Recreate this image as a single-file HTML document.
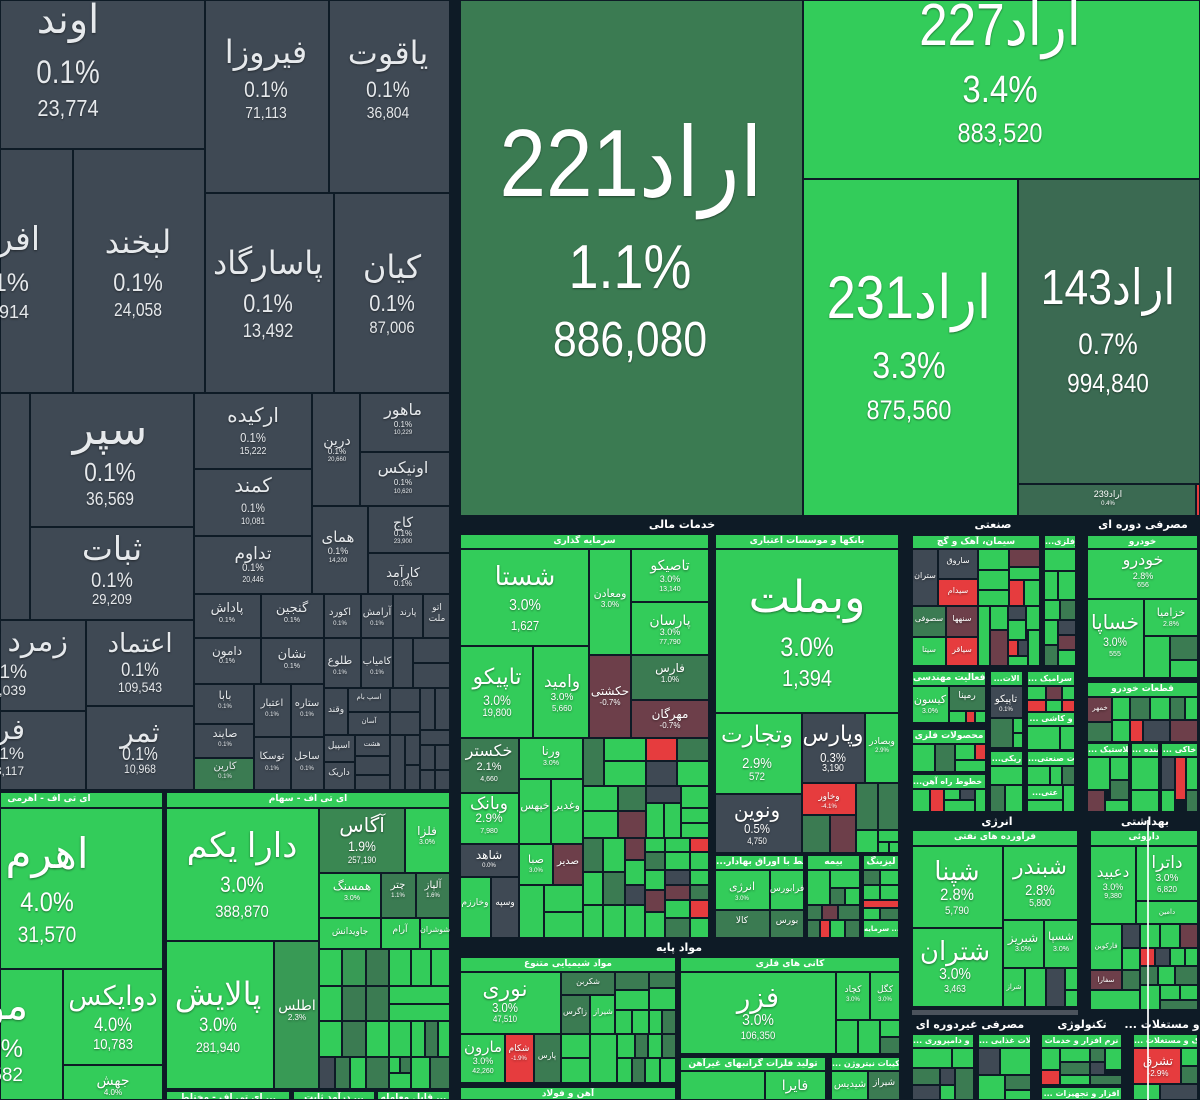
<!DOCTYPE html>
<html><head><meta charset="utf-8">
<style>
html,body{margin:0;padding:0;overflow:hidden}
body{width:1200px;height:1100px;background:#0e1b26;font-family:"Liberation Sans","DejaVu Sans",sans-serif}
#w{position:absolute;left:0;top:0;width:1200px;height:1100px;overflow:hidden;background:#0e1b26}
.c{position:absolute;box-sizing:border-box;border:1px solid #0e1b26}
.k{background:#3f4954}
.d{background:#3b7b52}
.a{background:#3a8752}
.m{background:#389a55}
.g{background:#33cc5a}
.r{background:#e63c3e}
.p{background:#6d3f4a}
.q{background:#3b6a52}
.h{position:absolute;box-sizing:border-box;border:1px solid #0e1b26;background:#33cc5a;color:#fff;font-size:9px;font-weight:bold;line-height:13px;text-align:center;white-space:nowrap;overflow:hidden;font-family:"DejaVu Sans",sans-serif}
.L{position:absolute;width:300px;text-align:center;line-height:1;white-space:nowrap;color:#fff;text-shadow:0 1px 2px rgba(0,0,0,.45)}
.R{text-align:right}
.n{transform:scaleX(.87)}
.y{color:#e6e9ec}
.S{position:absolute;width:200px;text-align:center;color:#fff;font-size:11px;font-weight:bold;line-height:12px;white-space:nowrap;font-family:"DejaVu Sans",sans-serif}
</style></head><body><div id="w">

<!-- ===== gray region ===== -->
<div class="c k" style="left:0px;top:0px;width:205px;height:149px"></div>
<div class="c k" style="left:205px;top:0px;width:124px;height:193px"></div>
<div class="c k" style="left:329px;top:0px;width:121px;height:193px"></div>
<div class="c k" style="left:0px;top:149px;width:73px;height:244px"></div>
<div class="c k" style="left:73px;top:149px;width:132px;height:244px"></div>
<div class="c k" style="left:205px;top:193px;width:129px;height:200px"></div>
<div class="c k" style="left:334px;top:193px;width:116px;height:200px"></div>
<div class="c k" style="left:0px;top:393px;width:30px;height:227px"></div>
<div class="c k" style="left:30px;top:393px;width:164px;height:134px"></div>
<div class="c k" style="left:30px;top:527px;width:164px;height:93px"></div>
<div class="c k" style="left:0px;top:620px;width:86px;height:91px"></div>
<div class="c k" style="left:86px;top:620px;width:108px;height:86px"></div>
<div class="c k" style="left:0px;top:711px;width:86px;height:79px"></div>
<div class="c k" style="left:86px;top:706px;width:108px;height:84px"></div>
<div class="c k" style="left:194px;top:393px;width:118px;height:76px"></div>
<div class="c k" style="left:194px;top:469px;width:118px;height:67px"></div>
<div class="c k" style="left:194px;top:536px;width:118px;height:58px"></div>
<div class="c k" style="left:312px;top:393px;width:48px;height:113px"></div>
<div class="c k" style="left:360px;top:393px;width:90px;height:59px"></div>
<div class="c k" style="left:360px;top:452px;width:90px;height:54px"></div>
<div class="c k" style="left:312px;top:506px;width:56px;height:88px"></div>
<div class="c k" style="left:368px;top:506px;width:82px;height:47px"></div>
<div class="c k" style="left:368px;top:553px;width:82px;height:41px"></div>
<div class="c k" style="left:194px;top:594px;width:67px;height:44px"></div>
<div class="c k" style="left:261px;top:594px;width:63px;height:44px"></div>
<div class="c k" style="left:324px;top:594px;width:37px;height:44px"></div>
<div class="c k" style="left:361px;top:594px;width:32px;height:44px"></div>
<div class="c k" style="left:393px;top:594px;width:30px;height:44px"></div>
<div class="c k" style="left:423px;top:594px;width:27px;height:44px"></div>
<div class="c k" style="left:194px;top:638px;width:67px;height:46px"></div>
<div class="c k" style="left:261px;top:638px;width:63px;height:46px"></div>
<div class="c k" style="left:324px;top:638px;width:37px;height:50px"></div>
<div class="c k" style="left:361px;top:638px;width:32px;height:50px"></div>
<div class="c k" style="left:393px;top:638px;width:20px;height:50px"></div>
<div class="c k" style="left:413px;top:638px;width:37px;height:25px"></div>
<div class="c k" style="left:413px;top:663px;width:37px;height:25px"></div>
<div class="c k" style="left:194px;top:684px;width:60px;height:40px"></div>
<div class="c k" style="left:194px;top:724px;width:60px;height:34px"></div>
<div class="c d" style="left:194px;top:758px;width:60px;height:32px"></div>
<div class="c k" style="left:254px;top:684px;width:37px;height:53px"></div>
<div class="c k" style="left:291px;top:684px;width:33px;height:53px"></div>
<div class="c k" style="left:254px;top:737px;width:37px;height:53px"></div>
<div class="c k" style="left:291px;top:737px;width:33px;height:53px"></div>
<div class="c k" style="left:324px;top:688px;width:24px;height:47px"></div>
<div class="c k" style="left:348px;top:688px;width:42px;height:24px"></div>
<div class="c k" style="left:348px;top:712px;width:42px;height:23px"></div>
<div class="c k" style="left:390px;top:688px;width:30px;height:24px"></div>
<div class="c k" style="left:390px;top:712px;width:30px;height:23px"></div>
<div class="c k" style="left:420px;top:688px;width:15px;height:42px"></div>
<div class="c k" style="left:435px;top:688px;width:15px;height:42px"></div>
<div class="c k" style="left:420px;top:730px;width:30px;height:15px"></div>
<div class="c k" style="left:324px;top:735px;width:31px;height:27px"></div>
<div class="c k" style="left:324px;top:762px;width:31px;height:28px"></div>
<div class="c k" style="left:355px;top:735px;width:35px;height:21px"></div>
<div class="c k" style="left:355px;top:756px;width:35px;height:19px"></div>
<div class="c k" style="left:355px;top:775px;width:35px;height:15px"></div>
<div class="c k" style="left:390px;top:735px;width:15px;height:55px"></div>
<div class="c k" style="left:405px;top:735px;width:15px;height:30px"></div>
<div class="c k" style="left:405px;top:765px;width:15px;height:25px"></div>
<div class="c k" style="left:420px;top:745px;width:15px;height:25px"></div>
<div class="c k" style="left:435px;top:745px;width:15px;height:25px"></div>
<div class="c k" style="left:420px;top:770px;width:15px;height:20px"></div>
<div class="c k" style="left:435px;top:770px;width:15px;height:20px"></div>

<!-- gray texts -->
<div class="L y" style="left:-82px;top:0px;font-size:40px">اوند</div>
<div class="L y n" style="left:-82px;top:56px;font-size:32px">0.1%</div>
<div class="L y n" style="left:-82px;top:97px;font-size:23px">23,774</div>
<div class="L y" style="left:116px;top:36px;font-size:32px">فیروزا</div>
<div class="L y n" style="left:116px;top:79px;font-size:22px">0.1%</div>
<div class="L y n" style="left:116px;top:106px;font-size:16px">71,113</div>
<div class="L y" style="left:238px;top:37px;font-size:32px">یاقوت</div>
<div class="L y n" style="left:238px;top:79px;font-size:22px">0.1%</div>
<div class="L y n" style="left:238px;top:106px;font-size:16px">36,804</div>
<div class="L y R" style="left:-260px;top:222px;font-size:33px">افرانت</div>
<div class="L y R" style="left:-271px;top:271px;font-size:25px">0.1%</div>
<div class="L y R" style="left:-271px;top:303px;font-size:18px">14,914</div>
<div class="L y" style="left:-12px;top:226px;font-size:32px">لبخند</div>
<div class="L y n" style="left:-12px;top:271px;font-size:25px">0.1%</div>
<div class="L y n" style="left:-12px;top:301px;font-size:18px">24,058</div>
<div class="L y" style="left:118px;top:247px;font-size:32px">پاسارگاد</div>
<div class="L y n" style="left:118px;top:292px;font-size:25px">0.1%</div>
<div class="L y n" style="left:118px;top:322px;font-size:19px">13,492</div>
<div class="L y" style="left:242px;top:251px;font-size:32px">کیان</div>
<div class="L y n" style="left:242px;top:292px;font-size:23px">0.1%</div>
<div class="L y n" style="left:242px;top:319px;font-size:17px">87,006</div>
<div class="L y" style="left:-40px;top:408px;font-size:44px">سپر</div>
<div class="L y n" style="left:-40px;top:459px;font-size:26px">0.1%</div>
<div class="L y n" style="left:-40px;top:490px;font-size:18px">36,569</div>
<div class="L y" style="left:-38px;top:532px;font-size:33px">ثبات</div>
<div class="L y n" style="left:-38px;top:570px;font-size:21px">0.1%</div>
<div class="L y n" style="left:-38px;top:592px;font-size:15px">29,209</div>
<div class="L y R" style="left:-232px;top:627px;font-size:30px">زمرد کوه</div>
<div class="L y R" style="left:-273px;top:663px;font-size:19px">0.1%</div>
<div class="L y R" style="left:-274px;top:683px;font-size:14px">14,039</div>
<div class="L y" style="left:-10px;top:630px;font-size:26px">اعتماد</div>
<div class="L y n" style="left:-10px;top:661px;font-size:19px">0.1%</div>
<div class="L y n" style="left:-10px;top:680px;font-size:14px">109,543</div>
<div class="L y R" style="left:-275px;top:716px;font-size:28px">فردوس</div>
<div class="L y R" style="left:-276px;top:745px;font-size:17px">0.1%</div>
<div class="L y R" style="left:-276px;top:765px;font-size:12px">13,117</div>
<div class="L y" style="left:-10px;top:719px;font-size:28px">ثمر</div>
<div class="L y n" style="left:-10px;top:745px;font-size:18px">0.1%</div>
<div class="L y n" style="left:-10px;top:763px;font-size:12px">10,968</div>
<div class="L y" style="left:103px;top:406px;font-size:20px">ارکیده</div>
<div class="L y n" style="left:103px;top:431px;font-size:13px">0.1%</div>
<div class="L y n" style="left:103px;top:447px;font-size:10px">15,222</div>
<div class="L y" style="left:103px;top:476px;font-size:20px">کمند</div>
<div class="L y n" style="left:103px;top:502px;font-size:12px">0.1%</div>
<div class="L y n" style="left:103px;top:517px;font-size:9px">10,081</div>
<div class="L y" style="left:103px;top:545px;font-size:17px">تداوم</div>
<div class="L y n" style="left:103px;top:563px;font-size:11px">0.1%</div>
<div class="L y n" style="left:103px;top:576px;font-size:8px">20,446</div>
<div class="L y" style="left:187px;top:433px;font-size:14px">درین</div>
<div class="L y" style="left:187px;top:448px;font-size:8px">0.1%</div>
<div class="L y" style="left:187px;top:457px;font-size:6px">20,660</div>
<div class="L y" style="left:253px;top:403px;font-size:16px">ماهور</div>
<div class="L y" style="left:253px;top:421px;font-size:8px">0.1%</div>
<div class="L y" style="left:253px;top:430px;font-size:6px">10,229</div>
<div class="L y" style="left:253px;top:461px;font-size:16px">اونیکس</div>
<div class="L y" style="left:253px;top:479px;font-size:8px">0.1%</div>
<div class="L y" style="left:253px;top:489px;font-size:6px">10,620</div>
<div class="L y" style="left:188px;top:530px;font-size:15px">همای</div>
<div class="L y" style="left:188px;top:547px;font-size:9px">0.1%</div>
<div class="L y" style="left:188px;top:558px;font-size:6px">14,200</div>
<div class="L y" style="left:253px;top:515px;font-size:14px">کاج</div>
<div class="L y" style="left:253px;top:530px;font-size:8px">0.1%</div>
<div class="L y" style="left:253px;top:539px;font-size:6px">23,900</div>
<div class="L y" style="left:253px;top:566px;font-size:13px">کارآمد</div>
<div class="L y" style="left:253px;top:580px;font-size:8px">0.1%</div>
<div class="L y" style="left:77px;top:601px;font-size:13px">پاداش</div>
<div class="L y" style="left:77px;top:617px;font-size:7px">0.1%</div>
<div class="L y" style="left:142px;top:601px;font-size:13px">گنجین</div>
<div class="L y" style="left:142px;top:617px;font-size:7px">0.1%</div>
<div class="L y" style="left:190px;top:608px;font-size:10px">اکورد</div>
<div class="L y" style="left:190px;top:621px;font-size:6px">0.1%</div>
<div class="L y" style="left:227px;top:608px;font-size:10px">آرامش</div>
<div class="L y" style="left:227px;top:621px;font-size:6px">0.1%</div>
<div class="L y" style="left:258px;top:608px;font-size:9px">پارند</div>
<div class="L y" style="left:287px;top:603px;font-size:9px">اتو</div>
<div class="L y" style="left:287px;top:614px;font-size:9px">ملت</div>
<div class="L y" style="left:77px;top:645px;font-size:12px">دامون</div>
<div class="L y" style="left:77px;top:658px;font-size:7px">0.1%</div>
<div class="L y" style="left:142px;top:647px;font-size:13px">نشان</div>
<div class="L y" style="left:142px;top:663px;font-size:7px">0.1%</div>
<div class="L y" style="left:190px;top:656px;font-size:11px">طلوع</div>
<div class="L y" style="left:190px;top:670px;font-size:6px">0.1%</div>
<div class="L y" style="left:227px;top:657px;font-size:10px">کامیاب</div>
<div class="L y" style="left:227px;top:670px;font-size:6px">0.1%</div>
<div class="L y" style="left:75px;top:691px;font-size:11px">بابا</div>
<div class="L y" style="left:75px;top:704px;font-size:6px">0.1%</div>
<div class="L y" style="left:75px;top:729px;font-size:11px">صایند</div>
<div class="L y" style="left:75px;top:742px;font-size:6px">0.1%</div>
<div class="L y" style="left:75px;top:762px;font-size:10px">کارین</div>
<div class="L y" style="left:75px;top:774px;font-size:6px">0.1%</div>
<div class="L y" style="left:122px;top:699px;font-size:10px">اعتبار</div>
<div class="L y" style="left:122px;top:712px;font-size:6px">0.1%</div>
<div class="L y" style="left:157px;top:699px;font-size:10px">ستاره</div>
<div class="L y" style="left:157px;top:712px;font-size:6px">0.1%</div>
<div class="L y" style="left:122px;top:752px;font-size:10px">توسکا</div>
<div class="L y" style="left:122px;top:766px;font-size:6px">0.1%</div>
<div class="L y" style="left:157px;top:752px;font-size:10px">ساحل</div>
<div class="L y" style="left:157px;top:766px;font-size:6px">0.1%</div>
<div class="L y" style="left:186px;top:705px;font-size:9px">وقند</div>
<div class="L y" style="left:219px;top:694px;font-size:7px">اسپ بام</div>
<div class="L y" style="left:219px;top:718px;font-size:7px">آسان</div>
<div class="L y" style="left:189px;top:741px;font-size:9px">اسپیل</div>
<div class="L y" style="left:189px;top:768px;font-size:9px">داریک</div>
<div class="L y" style="left:222px;top:741px;font-size:7px">هشت</div>

<!-- ===== top right ===== -->
<div class="c d" style="left:460px;top:0px;width:343px;height:516px"></div>
<div class="c g" style="left:803px;top:0px;width:397px;height:179px"></div>
<div class="c g" style="left:803px;top:179px;width:215px;height:337px"></div>
<div class="c q" style="left:1018px;top:179px;width:182px;height:305px"></div>
<div class="c q" style="left:1018px;top:484px;width:178px;height:32px"></div>
<div class="c r" style="left:1196px;top:484px;width:4px;height:32px"></div>

<div class="L n" style="left:480px;top:116px;font-size:96px">اراد221</div>
<div class="L n" style="left:480px;top:237px;font-size:62px">1.1%</div>
<div class="L n" style="left:480px;top:316px;font-size:49px">886,080</div>
<div class="L n" style="left:850px;top:-4px;font-size:59px">اراد227</div>
<div class="L n" style="left:850px;top:71px;font-size:38px">3.4%</div>
<div class="L n" style="left:850px;top:120px;font-size:27px">883,520</div>
<div class="L n" style="left:759px;top:268px;font-size:60px">اراد231</div>
<div class="L n" style="left:759px;top:347px;font-size:37px">3.3%</div>
<div class="L n" style="left:759px;top:397px;font-size:27px">875,560</div>
<div class="L n" style="left:958px;top:264px;font-size:49px">اراد143</div>
<div class="L n" style="left:958px;top:330px;font-size:30px">0.7%</div>
<div class="L n" style="left:958px;top:370px;font-size:26px">994,840</div>
<div class="L" style="left:958px;top:490px;font-size:9px">اراد239</div>
<div class="L" style="left:958px;top:501px;font-size:6px">0.4%</div>

<!-- ===== bottom left ETF ===== -->
<div class="h" style="left:0px;top:792px;width:163px;height:16px;padding-right:65px">ای تی اف - اهرمی</div>
<div class="c g" style="left:0px;top:808px;width:163px;height:161px"></div>
<div class="c g" style="left:0px;top:969px;width:63px;height:131px"></div>
<div class="c g" style="left:63px;top:969px;width:100px;height:96px"></div>
<div class="c g" style="left:63px;top:1065px;width:100px;height:35px"></div>
<div class="h" style="left:166px;top:792px;width:284px;height:16px">ای تی اف - سهام</div>
<div class="c g" style="left:166px;top:808px;width:153px;height:133px"></div>
<div class="c g" style="left:166px;top:941px;width:108px;height:148px"></div>
<div class="c m" style="left:274px;top:941px;width:45px;height:148px"></div>
<div class="c a" style="left:319px;top:808px;width:86px;height:65px"></div>
<div class="c g" style="left:405px;top:808px;width:45px;height:65px"></div>
<div class="c g" style="left:319px;top:873px;width:62px;height:45px"></div>
<div class="c d" style="left:381px;top:873px;width:35px;height:45px"></div>
<div class="c d" style="left:416px;top:873px;width:34px;height:45px"></div>
<div class="c g" style="left:319px;top:918px;width:62px;height:31px"></div>
<div class="c g" style="left:381px;top:918px;width:39px;height:31px"></div>
<div class="c g" style="left:420px;top:918px;width:30px;height:31px"></div>
<div class="c g" style="left:319px;top:949px;width:23px;height:37px"></div>
<div class="c m" style="left:342px;top:949px;width:24px;height:37px"></div>
<div class="c d" style="left:366px;top:949px;width:23px;height:37px"></div>
<div class="c g" style="left:389px;top:949px;width:22px;height:37px"></div>
<div class="c g" style="left:411px;top:949px;width:20px;height:37px"></div>
<div class="c g" style="left:431px;top:949px;width:19px;height:37px"></div>
<div class="c g" style="left:319px;top:986px;width:23px;height:35px"></div>
<div class="c d" style="left:342px;top:986px;width:24px;height:35px"></div>
<div class="c d" style="left:366px;top:986px;width:23px;height:35px"></div>
<div class="c g" style="left:389px;top:986px;width:61px;height:18px"></div>
<div class="c g" style="left:389px;top:1004px;width:61px;height:17px"></div>
<div class="c g" style="left:319px;top:1021px;width:23px;height:36px"></div>
<div class="c d" style="left:342px;top:1021px;width:24px;height:36px"></div>
<div class="c g" style="left:366px;top:1021px;width:23px;height:36px"></div>
<div class="c g" style="left:389px;top:1021px;width:22px;height:36px"></div>
<div class="c g" style="left:411px;top:1021px;width:14px;height:36px"></div>
<div class="c d" style="left:425px;top:1021px;width:13px;height:36px"></div>
<div class="c g" style="left:438px;top:1021px;width:12px;height:36px"></div>
<div class="c k" style="left:319px;top:1057px;width:16px;height:32px"></div>
<div class="c d" style="left:335px;top:1057px;width:15px;height:32px"></div>
<div class="c g" style="left:350px;top:1057px;width:16px;height:32px"></div>
<div class="c d" style="left:366px;top:1057px;width:23px;height:32px"></div>
<div class="c g" style="left:389px;top:1057px;width:11px;height:16px"></div>
<div class="c d" style="left:400px;top:1057px;width:11px;height:16px"></div>
<div class="c g" style="left:389px;top:1073px;width:22px;height:16px"></div>
<div class="c g" style="left:411px;top:1057px;width:19px;height:32px"></div>
<div class="c d" style="left:430px;top:1057px;width:20px;height:32px"></div>
<div class="h" style="left:166px;top:1091px;width:124px;height:9px">ای تی اف - مختلط ...</div>
<div class="h" style="left:293px;top:1091px;width:82px;height:9px">درآمد ثابت ...</div>
<div class="h" style="left:377px;top:1091px;width:73px;height:9px">قابل معامله ...</div>

<div class="L" style="left:-103px;top:833px;font-size:42px">اهرم</div>
<div class="L n" style="left:-103px;top:889px;font-size:27px">4.0%</div>
<div class="L n" style="left:-103px;top:924px;font-size:22px">31,570</div>
<div class="L R" style="left:-272px;top:986px;font-size:40px">موج</div>
<div class="L R" style="left:-277px;top:1037px;font-size:25px">4.0%</div>
<div class="L R" style="left:-277px;top:1066px;font-size:19px">12,582</div>
<div class="L" style="left:-37px;top:983px;font-size:27px">دوایکس</div>
<div class="L n" style="left:-37px;top:1016px;font-size:19px">4.0%</div>
<div class="L n" style="left:-37px;top:1037px;font-size:15px">10,783</div>
<div class="L" style="left:-37px;top:1073px;font-size:14px">جهش</div>
<div class="L" style="left:-37px;top:1089px;font-size:8px">4.0%</div>
<div class="L" style="left:92px;top:829px;font-size:34px">دارا یکم</div>
<div class="L n" style="left:92px;top:874px;font-size:22px">3.0%</div>
<div class="L n" style="left:92px;top:903px;font-size:17px">388,870</div>
<div class="L" style="left:68px;top:978px;font-size:32px">پالایش</div>
<div class="L n" style="left:68px;top:1016px;font-size:19px">3.0%</div>
<div class="L n" style="left:68px;top:1040px;font-size:14px">281,940</div>
<div class="L" style="left:147px;top:998px;font-size:14px">اطلس</div>
<div class="L" style="left:147px;top:1014px;font-size:8px">2.3%</div>
<div class="L" style="left:212px;top:816px;font-size:20px">آگاس</div>
<div class="L n" style="left:212px;top:839px;font-size:14px">1.9%</div>
<div class="L n" style="left:212px;top:856px;font-size:9px">257,190</div>
<div class="L" style="left:277px;top:825px;font-size:12px">فلزا</div>
<div class="L" style="left:277px;top:839px;font-size:7px">3.0%</div>
<div class="L" style="left:202px;top:880px;font-size:12px">همسنگ</div>
<div class="L" style="left:202px;top:895px;font-size:7px">3.0%</div>
<div class="L" style="left:248px;top:881px;font-size:10px">چتر</div>
<div class="L" style="left:248px;top:893px;font-size:6px">1.1%</div>
<div class="L" style="left:283px;top:881px;font-size:10px">آلپاز</div>
<div class="L" style="left:283px;top:893px;font-size:6px">1.6%</div>
<div class="L" style="left:200px;top:927px;font-size:9px">جاویدانش</div>
<div class="L" style="left:250px;top:925px;font-size:9px">آرام</div>
<div class="L" style="left:285px;top:926px;font-size:8px">شوشران</div>

<!-- ===== bottom right: section labels ===== -->
<div class="S" style="left:582px;top:519px">خدمات مالی</div>
<div class="S" style="left:893px;top:519px">صنعتی</div>
<div class="S" style="left:1088px;top:519px;width:110px">مصرفی دوره ای</div>
<div class="S" style="left:897px;top:816px">انرژی</div>
<div class="S" style="left:1090px;top:816px;width:110px">بهداشتی</div>
<div class="S" style="left:579px;top:942px">مواد پایه</div>
<div class="S" style="left:870px;top:1019px">مصرفی غیردوره ای</div>
<div class="S" style="left:982px;top:1019px">تکنولوژی</div>
<div class="S" style="left:1124px;top:1019px;width:76px">... و مستغلات</div>

<!-- financial -->
<div class="h" style="left:460px;top:534px;width:249px;height:15px">سرمایه گذاری</div>
<div class="c g" style="left:460px;top:549px;width:129px;height:97px"></div>
<div class="c g" style="left:589px;top:549px;width:42px;height:106px"></div>
<div class="c g" style="left:631px;top:549px;width:78px;height:53px"></div>
<div class="c g" style="left:631px;top:602px;width:78px;height:53px"></div>
<div class="c g" style="left:460px;top:646px;width:73px;height:92px"></div>
<div class="c g" style="left:533px;top:646px;width:56px;height:92px"></div>
<div class="c p" style="left:589px;top:655px;width:42px;height:83px"></div>
<div class="c d" style="left:631px;top:655px;width:78px;height:45px"></div>
<div class="c p" style="left:631px;top:700px;width:78px;height:38px"></div>
<div class="c d" style="left:460px;top:738px;width:59px;height:55px"></div>
<div class="c g" style="left:460px;top:793px;width:59px;height:51px"></div>
<div class="c k" style="left:460px;top:844px;width:59px;height:33px"></div>
<div class="c g" style="left:460px;top:877px;width:31px;height:61px"></div>
<div class="c k" style="left:491px;top:877px;width:28px;height:61px"></div>
<div class="c g" style="left:519px;top:738px;width:64px;height:41px"></div>
<div class="c g" style="left:519px;top:779px;width:32px;height:65px"></div>
<div class="c g" style="left:551px;top:779px;width:32px;height:65px"></div>
<div class="c g" style="left:519px;top:844px;width:34px;height:41px"></div>
<div class="c p" style="left:553px;top:844px;width:30px;height:41px"></div>
<div class="c g" style="left:519px;top:885px;width:25px;height:53px"></div>
<div class="c g" style="left:544px;top:885px;width:39px;height:27px"></div>
<div class="c g" style="left:544px;top:912px;width:39px;height:26px"></div>
<div class="c d" style="left:583px;top:738px;width:21px;height:48px"></div>
<div class="c g" style="left:604px;top:738px;width:42px;height:23px"></div>
<div class="c g" style="left:604px;top:761px;width:42px;height:25px"></div>
<div class="c r" style="left:646px;top:738px;width:31px;height:23px"></div>
<div class="c k" style="left:646px;top:761px;width:31px;height:25px"></div>
<div class="c d" style="left:677px;top:738px;width:32px;height:23px"></div>
<div class="c g" style="left:677px;top:761px;width:32px;height:25px"></div>
<div class="c g" style="left:583px;top:786px;width:35px;height:25px"></div>
<div class="c g" style="left:583px;top:811px;width:35px;height:27px"></div>
<div class="c d" style="left:618px;top:786px;width:28px;height:25px"></div>
<div class="c p" style="left:618px;top:811px;width:28px;height:27px"></div>
<div class="c k" style="left:646px;top:786px;width:35px;height:17px"></div>
<div class="c g" style="left:646px;top:803px;width:18px;height:35px"></div>
<div class="c g" style="left:664px;top:803px;width:17px;height:35px"></div>
<div class="c g" style="left:681px;top:786px;width:28px;height:22px"></div>
<div class="c g" style="left:681px;top:808px;width:28px;height:15px"></div>
<div class="c g" style="left:681px;top:823px;width:28px;height:15px"></div>
<div class="c d" style="left:583px;top:838px;width:20px;height:34px"></div>
<div class="c g" style="left:583px;top:872px;width:20px;height:33px"></div>
<div class="c g" style="left:583px;top:905px;width:20px;height:33px"></div>
<div class="c g" style="left:603px;top:838px;width:22px;height:34px"></div>
<div class="c d" style="left:603px;top:872px;width:22px;height:33px"></div>
<div class="c g" style="left:603px;top:905px;width:22px;height:33px"></div>
<div class="c p" style="left:625px;top:838px;width:20px;height:22px"></div>
<div class="c g" style="left:625px;top:860px;width:20px;height:25px"></div>
<div class="c k" style="left:625px;top:885px;width:20px;height:20px"></div>
<div class="c g" style="left:625px;top:905px;width:20px;height:33px"></div>
<div class="c g" style="left:645px;top:838px;width:20px;height:14px"></div>
<div class="c d" style="left:645px;top:852px;width:20px;height:18px"></div>
<div class="c g" style="left:645px;top:870px;width:20px;height:20px"></div>
<div class="c p" style="left:645px;top:890px;width:20px;height:22px"></div>
<div class="c g" style="left:645px;top:912px;width:20px;height:26px"></div>
<div class="c g" style="left:665px;top:838px;width:25px;height:14px"></div>
<div class="c g" style="left:665px;top:852px;width:25px;height:18px"></div>
<div class="c k" style="left:665px;top:870px;width:25px;height:15px"></div>
<div class="c p" style="left:665px;top:885px;width:25px;height:15px"></div>
<div class="c g" style="left:665px;top:900px;width:25px;height:18px"></div>
<div class="c d" style="left:665px;top:918px;width:25px;height:20px"></div>
<div class="c r" style="left:690px;top:838px;width:19px;height:14px"></div>
<div class="c g" style="left:690px;top:852px;width:19px;height:18px"></div>
<div class="c g" style="left:690px;top:870px;width:19px;height:15px"></div>
<div class="c d" style="left:690px;top:885px;width:19px;height:15px"></div>
<div class="c r" style="left:690px;top:900px;width:19px;height:18px"></div>
<div class="c g" style="left:690px;top:918px;width:19px;height:20px"></div>

<!-- banks -->
<div class="h" style="left:715px;top:534px;width:184px;height:15px">بانکها و موسسات اعتباری</div>
<div class="c g" style="left:715px;top:549px;width:184px;height:164px"></div>
<div class="c g" style="left:715px;top:713px;width:87px;height:81px"></div>
<div class="c k" style="left:802px;top:713px;width:63px;height:70px"></div>
<div class="c g" style="left:865px;top:713px;width:34px;height:70px"></div>
<div class="c k" style="left:715px;top:794px;width:87px;height:59px"></div>
<div class="c r" style="left:802px;top:783px;width:54px;height:32px"></div>
<div class="c d" style="left:856px;top:783px;width:22px;height:47px"></div>
<div class="c d" style="left:878px;top:783px;width:21px;height:47px"></div>
<div class="c d" style="left:802px;top:815px;width:28px;height:38px"></div>
<div class="c p" style="left:830px;top:815px;width:26px;height:38px"></div>
<div class="c g" style="left:856px;top:830px;width:22px;height:23px"></div>
<div class="c g" style="left:878px;top:830px;width:21px;height:12px"></div>
<div class="c g" style="left:878px;top:842px;width:11px;height:11px"></div>
<div class="c g" style="left:889px;top:842px;width:10px;height:11px"></div>
<div class="h" style="left:715px;top:855px;width:89px;height:15px">...ی مرتبط با اوراق بهادار</div>
<div class="c g" style="left:715px;top:870px;width:55px;height:40px"></div>
<div class="c g" style="left:770px;top:870px;width:34px;height:40px"></div>
<div class="c d" style="left:715px;top:910px;width:55px;height:28px"></div>
<div class="c d" style="left:770px;top:910px;width:34px;height:28px"></div>
<div class="h" style="left:807px;top:855px;width:53px;height:15px">بیمه</div>
<div class="c g" style="left:807px;top:870px;width:23px;height:35px"></div>
<div class="c g" style="left:830px;top:870px;width:30px;height:18px"></div>
<div class="c d" style="left:830px;top:888px;width:15px;height:17px"></div>
<div class="c g" style="left:845px;top:888px;width:15px;height:17px"></div>
<div class="c d" style="left:807px;top:905px;width:15px;height:15px"></div>
<div class="c p" style="left:822px;top:905px;width:16px;height:15px"></div>
<div class="c d" style="left:838px;top:905px;width:22px;height:15px"></div>
<div class="c d" style="left:807px;top:920px;width:13px;height:18px"></div>
<div class="c r" style="left:820px;top:920px;width:10px;height:18px"></div>
<div class="c g" style="left:830px;top:920px;width:15px;height:18px"></div>
<div class="c d" style="left:845px;top:920px;width:15px;height:18px"></div>
<div class="h" style="left:863px;top:855px;width:36px;height:15px">لیزینگ</div>
<div class="c d" style="left:863px;top:870px;width:17px;height:15px"></div>
<div class="c g" style="left:880px;top:870px;width:19px;height:15px"></div>
<div class="c g" style="left:863px;top:885px;width:17px;height:15px"></div>
<div class="c g" style="left:880px;top:885px;width:19px;height:15px"></div>
<div class="c r" style="left:863px;top:900px;width:36px;height:8px"></div>
<div class="c g" style="left:863px;top:908px;width:17px;height:12px"></div>
<div class="c d" style="left:880px;top:908px;width:19px;height:12px"></div>
<div class="h" style="left:863px;top:920px;width:36px;height:18px;line-height:16px;font-size:7px">سرمایه ...</div>

<!-- financial texts -->
<div class="L" style="left:375px;top:563px;font-size:26px">شستا</div>
<div class="L n" style="left:375px;top:598px;font-size:16px">3.0%</div>
<div class="L n" style="left:375px;top:619px;font-size:13px">1,627</div>
<div class="L" style="left:460px;top:589px;font-size:11px">ومعادن</div>
<div class="L" style="left:460px;top:601px;font-size:8px">3.0%</div>
<div class="L" style="left:520px;top:558px;font-size:14px">تاصیکو</div>
<div class="L" style="left:520px;top:575px;font-size:9px">3.0%</div>
<div class="L" style="left:520px;top:586px;font-size:7px">13,140</div>
<div class="L" style="left:520px;top:613px;font-size:14px">پارسان</div>
<div class="L" style="left:520px;top:628px;font-size:9px">3.0%</div>
<div class="L" style="left:520px;top:639px;font-size:7px">77,790</div>
<div class="L" style="left:347px;top:666px;font-size:22px">تاپیکو</div>
<div class="L n" style="left:347px;top:693px;font-size:14px">3.0%</div>
<div class="L n" style="left:347px;top:708px;font-size:11px">19,800</div>
<div class="L" style="left:412px;top:673px;font-size:17px">وامید</div>
<div class="L" style="left:412px;top:693px;font-size:10px">3.0%</div>
<div class="L" style="left:412px;top:705px;font-size:8px">5,660</div>
<div class="L" style="left:460px;top:685px;font-size:12px">حکشتی</div>
<div class="L" style="left:460px;top:699px;font-size:8px">-0.7%</div>
<div class="L" style="left:520px;top:662px;font-size:12px">فارس</div>
<div class="L" style="left:520px;top:676px;font-size:8px">1.0%</div>
<div class="L" style="left:520px;top:708px;font-size:12px">مهرگان</div>
<div class="L" style="left:520px;top:722px;font-size:8px">-0.7%</div>
<div class="L" style="left:657px;top:576px;font-size:44px">وبملت</div>
<div class="L n" style="left:657px;top:634px;font-size:27px">3.0%</div>
<div class="L n" style="left:657px;top:667px;font-size:23px">1,394</div>
<div class="L" style="left:607px;top:723px;font-size:23px">وتجارت</div>
<div class="L n" style="left:607px;top:756px;font-size:15px">2.9%</div>
<div class="L n" style="left:607px;top:772px;font-size:11px">572</div>
<div class="L" style="left:683px;top:723px;font-size:22px">وپارس</div>
<div class="L n" style="left:683px;top:751px;font-size:13px">0.3%</div>
<div class="L n" style="left:683px;top:764px;font-size:10px">3,190</div>
<div class="L" style="left:732px;top:737px;font-size:9px">وبصادر</div>
<div class="L" style="left:732px;top:748px;font-size:6px">2.9%</div>
<div class="L" style="left:607px;top:801px;font-size:20px">ونوین</div>
<div class="L n" style="left:607px;top:822px;font-size:13px">0.5%</div>
<div class="L n" style="left:607px;top:837px;font-size:9px">4,750</div>
<div class="L" style="left:679px;top:792px;font-size:9px">وخاور</div>
<div class="L" style="left:679px;top:804px;font-size:6px">-4.1%</div>
<div class="L" style="left:339px;top:744px;font-size:16px">خکستر</div>
<div class="L" style="left:339px;top:762px;font-size:11px">2.1%</div>
<div class="L" style="left:339px;top:776px;font-size:7px">4,660</div>
<div class="L" style="left:339px;top:795px;font-size:17px">وبانک</div>
<div class="L" style="left:339px;top:812px;font-size:12px">2.9%</div>
<div class="L" style="left:339px;top:828px;font-size:7px">7,980</div>
<div class="L" style="left:339px;top:849px;font-size:12px">شاهد</div>
<div class="L" style="left:339px;top:863px;font-size:6px">0.0%</div>
<div class="L" style="left:325px;top:898px;font-size:9px">وخارزم</div>
<div class="L" style="left:355px;top:898px;font-size:9px">وسپه</div>
<div class="L" style="left:401px;top:745px;font-size:12px">ورنا</div>
<div class="L" style="left:401px;top:760px;font-size:7px">3.0%</div>
<div class="L" style="left:385px;top:801px;font-size:11px">خپهس</div>
<div class="L" style="left:417px;top:801px;font-size:11px">وغدیر</div>
<div class="L" style="left:386px;top:855px;font-size:11px">صبا</div>
<div class="L" style="left:386px;top:868px;font-size:6px">3.0%</div>
<div class="L" style="left:418px;top:857px;font-size:10px">صدیر</div>
<div class="L" style="left:592px;top:882px;font-size:11px">انرژی</div>
<div class="L" style="left:592px;top:896px;font-size:6px">3.0%</div>
<div class="L" style="left:637px;top:884px;font-size:9px">فرابورس</div>
<div class="L" style="left:592px;top:916px;font-size:9px">کالا</div>
<div class="L" style="left:637px;top:916px;font-size:9px">بورس</div>

<!-- industrial -->
<div class="h" style="left:912px;top:535px;width:128px;height:14px;line-height:12px">سیمان، آهک و گچ</div>
<div class="c k" style="left:912px;top:549px;width:26px;height:57px"></div>
<div class="c k" style="left:938px;top:549px;width:40px;height:30px"></div>
<div class="c r" style="left:938px;top:579px;width:40px;height:27px"></div>
<div class="c g" style="left:978px;top:549px;width:31px;height:21px"></div>
<div class="c g" style="left:978px;top:570px;width:31px;height:20px"></div>
<div class="c g" style="left:978px;top:590px;width:31px;height:16px"></div>
<div class="c p" style="left:1009px;top:549px;width:31px;height:18px"></div>
<div class="c g" style="left:1009px;top:567px;width:31px;height:13px"></div>
<div class="c r" style="left:1009px;top:580px;width:15px;height:26px"></div>
<div class="c g" style="left:1024px;top:580px;width:16px;height:26px"></div>
<div class="c d" style="left:912px;top:606px;width:34px;height:31px"></div>
<div class="c p" style="left:946px;top:606px;width:32px;height:31px"></div>
<div class="c g" style="left:912px;top:637px;width:34px;height:29px"></div>
<div class="c r" style="left:946px;top:637px;width:32px;height:29px"></div>
<div class="c g" style="left:978px;top:606px;width:12px;height:60px"></div>
<div class="c g" style="left:990px;top:606px;width:18px;height:24px"></div>
<div class="c k" style="left:1008px;top:606px;width:18px;height:14px"></div>
<div class="c g" style="left:1026px;top:606px;width:14px;height:24px"></div>
<div class="c g" style="left:1008px;top:620px;width:18px;height:20px"></div>
<div class="c p" style="left:990px;top:630px;width:18px;height:36px"></div>
<div class="c r" style="left:1008px;top:640px;width:10px;height:16px"></div>
<div class="c k" style="left:1018px;top:640px;width:10px;height:16px"></div>
<div class="c g" style="left:1028px;top:630px;width:12px;height:36px"></div>
<div class="c g" style="left:1008px;top:656px;width:20px;height:10px"></div>
<div class="h" style="left:1044px;top:535px;width:32px;height:14px;line-height:12px;font-size:8px">...رفلزی</div>
<div class="c g" style="left:1044px;top:549px;width:32px;height:22px"></div>
<div class="c g" style="left:1044px;top:571px;width:14px;height:29px"></div>
<div class="c g" style="left:1058px;top:571px;width:18px;height:29px"></div>
<div class="c g" style="left:1044px;top:600px;width:16px;height:20px"></div>
<div class="c d" style="left:1060px;top:600px;width:16px;height:20px"></div>
<div class="c g" style="left:1044px;top:620px;width:14px;height:25px"></div>
<div class="c k" style="left:1058px;top:620px;width:18px;height:15px"></div>
<div class="c p" style="left:1058px;top:635px;width:18px;height:15px"></div>
<div class="c d" style="left:1044px;top:645px;width:14px;height:21px"></div>
<div class="c g" style="left:1058px;top:650px;width:18px;height:16px"></div>
<div class="h" style="left:912px;top:671px;width:74px;height:15px">فعالیت مهندسی</div>
<div class="c g" style="left:912px;top:686px;width:37px;height:37px"></div>
<div class="c d" style="left:949px;top:686px;width:37px;height:25px"></div>
<div class="c g" style="left:949px;top:711px;width:17px;height:12px"></div>
<div class="c r" style="left:966px;top:711px;width:9px;height:12px"></div>
<div class="c g" style="left:975px;top:711px;width:11px;height:12px"></div>
<div class="h" style="left:990px;top:671px;width:33px;height:15px;font-size:8px">...الات</div>
<div class="c k" style="left:990px;top:686px;width:33px;height:32px"></div>
<div class="c d" style="left:990px;top:718px;width:23px;height:30px"></div>
<div class="c g" style="left:1013px;top:718px;width:10px;height:15px"></div>
<div class="c g" style="left:1013px;top:733px;width:10px;height:15px"></div>
<div class="h" style="left:1027px;top:671px;width:48px;height:15px;font-size:8px">... و سرامیک</div>
<div class="c g" style="left:1027px;top:686px;width:19px;height:14px"></div>
<div class="c p" style="left:1046px;top:686px;width:16px;height:14px"></div>
<div class="c g" style="left:1062px;top:686px;width:13px;height:14px"></div>
<div class="c r" style="left:1027px;top:700px;width:19px;height:12px"></div>
<div class="c g" style="left:1046px;top:700px;width:16px;height:12px"></div>
<div class="c r" style="left:1062px;top:700px;width:13px;height:12px"></div>
<div class="h" style="left:1027px;top:712px;width:48px;height:14px;line-height:12px;font-size:8px">... و کاشی</div>
<div class="c g" style="left:1027px;top:726px;width:33px;height:24px"></div>
<div class="c g" style="left:1060px;top:726px;width:15px;height:24px"></div>
<div class="h" style="left:912px;top:729px;width:74px;height:15px">محصولات فلزی</div>
<div class="c g" style="left:912px;top:744px;width:23px;height:28px"></div>
<div class="c d" style="left:935px;top:744px;width:20px;height:28px"></div>
<div class="c g" style="left:955px;top:744px;width:20px;height:16px"></div>
<div class="c r" style="left:975px;top:744px;width:11px;height:16px"></div>
<div class="c g" style="left:955px;top:760px;width:31px;height:12px"></div>
<div class="h" style="left:990px;top:751px;width:33px;height:15px;font-size:8px">...ریکی</div>
<div class="c g" style="left:990px;top:766px;width:33px;height:19px"></div>
<div class="c d" style="left:990px;top:785px;width:15px;height:27px"></div>
<div class="c g" style="left:1005px;top:785px;width:18px;height:27px"></div>
<div class="h" style="left:1027px;top:751px;width:48px;height:15px;font-size:8px">...ات صنعتی</div>
<div class="c g" style="left:1027px;top:766px;width:23px;height:19px"></div>
<div class="c g" style="left:1050px;top:766px;width:12px;height:19px"></div>
<div class="c d" style="left:1062px;top:766px;width:13px;height:19px"></div>
<div class="h" style="left:912px;top:774px;width:74px;height:15px;font-size:8px">...یل خطوط راه آهن</div>
<div class="c g" style="left:912px;top:789px;width:18px;height:23px"></div>
<div class="c r" style="left:930px;top:789px;width:14px;height:23px"></div>
<div class="c g" style="left:944px;top:789px;width:16px;height:11px"></div>
<div class="c k" style="left:960px;top:789px;width:15px;height:11px"></div>
<div class="c g" style="left:975px;top:789px;width:11px;height:23px"></div>
<div class="c g" style="left:944px;top:800px;width:31px;height:12px"></div>
<div class="h" style="left:1027px;top:785px;width:36px;height:15px;font-size:8px">...عتی</div>
<div class="c g" style="left:1027px;top:800px;width:36px;height:12px"></div>
<div class="c g" style="left:1063px;top:785px;width:12px;height:27px"></div>

<div class="L" style="left:775px;top:572px;font-size:8px">ستران</div>
<div class="L" style="left:808px;top:557px;font-size:8px">ساروق</div>
<div class="L" style="left:808px;top:587px;font-size:8px">سیدام</div>
<div class="L" style="left:779px;top:615px;font-size:8px">سصوفی</div>
<div class="L" style="left:812px;top:615px;font-size:8px">سنهها</div>
<div class="L" style="left:779px;top:646px;font-size:8px">سیتا</div>
<div class="L" style="left:812px;top:646px;font-size:8px">سیاقر</div>
<div class="L" style="left:780px;top:695px;font-size:11px">کیسون</div>
<div class="L" style="left:780px;top:708px;font-size:7px">3.0%</div>
<div class="L" style="left:817px;top:691px;font-size:9px">رمپنا</div>
<div class="L" style="left:856px;top:695px;font-size:10px">تاپیکو</div>
<div class="L" style="left:856px;top:707px;font-size:6px">0.1%</div>

<!-- consumer cyclic -->
<div class="h" style="left:1087px;top:535px;width:111px;height:14px;line-height:12px">خودرو</div>
<div class="c g" style="left:1087px;top:549px;width:111px;height:50px"></div>
<div class="c g" style="left:1087px;top:599px;width:57px;height:79px"></div>
<div class="c g" style="left:1144px;top:599px;width:54px;height:37px"></div>
<div class="c g" style="left:1144px;top:636px;width:26px;height:42px"></div>
<div class="c d" style="left:1170px;top:636px;width:28px;height:24px"></div>
<div class="c g" style="left:1170px;top:660px;width:28px;height:18px"></div>
<div class="h" style="left:1087px;top:682px;width:111px;height:15px">قطعات خودرو</div>
<div class="c p" style="left:1087px;top:697px;width:25px;height:25px"></div>
<div class="c d" style="left:1087px;top:722px;width:25px;height:20px"></div>
<div class="c g" style="left:1112px;top:697px;width:18px;height:23px"></div>
<div class="c d" style="left:1130px;top:697px;width:20px;height:23px"></div>
<div class="c g" style="left:1150px;top:697px;width:20px;height:23px"></div>
<div class="c d" style="left:1170px;top:697px;width:15px;height:23px"></div>
<div class="c g" style="left:1185px;top:697px;width:13px;height:23px"></div>
<div class="c g" style="left:1112px;top:720px;width:18px;height:22px"></div>
<div class="c r" style="left:1130px;top:720px;width:13px;height:22px"></div>
<div class="c k" style="left:1143px;top:720px;width:27px;height:22px"></div>
<div class="c p" style="left:1170px;top:720px;width:28px;height:22px"></div>
<div class="h" style="left:1087px;top:743px;width:42px;height:14px;line-height:12px;font-size:8px">... پلاستیک</div>
<div class="h" style="left:1131px;top:743px;width:28px;height:14px;line-height:12px;font-size:8px">... سنده</div>
<div class="h" style="left:1161px;top:743px;width:37px;height:14px;line-height:12px;font-size:8px">... خاکی</div>
<div class="c g" style="left:1087px;top:757px;width:23px;height:33px"></div>
<div class="c g" style="left:1110px;top:757px;width:19px;height:23px"></div>
<div class="c d" style="left:1110px;top:780px;width:19px;height:20px"></div>
<div class="c p" style="left:1087px;top:790px;width:18px;height:22px"></div>
<div class="c g" style="left:1105px;top:800px;width:24px;height:12px"></div>
<div class="c g" style="left:1131px;top:757px;width:28px;height:33px"></div>
<div class="c g" style="left:1131px;top:790px;width:28px;height:22px"></div>
<div class="c k" style="left:1161px;top:757px;width:14px;height:33px"></div>
<div class="c r" style="left:1175px;top:757px;width:11px;height:43px"></div>
<div class="c g" style="left:1186px;top:757px;width:12px;height:33px"></div>
<div class="c g" style="left:1161px;top:790px;width:14px;height:22px"></div>
<div class="c d" style="left:1186px;top:790px;width:12px;height:22px"></div>

<div class="L" style="left:993px;top:553px;font-size:16px">خودرو</div>
<div class="L" style="left:993px;top:572px;font-size:9px">2.8%</div>
<div class="L" style="left:993px;top:582px;font-size:7px">656</div>
<div class="L" style="left:965px;top:613px;font-size:20px">خساپا</div>
<div class="L n" style="left:965px;top:636px;font-size:12px">3.0%</div>
<div class="L" style="left:965px;top:651px;font-size:7px">555</div>
<div class="L" style="left:1021px;top:608px;font-size:11px">خزامیا</div>
<div class="L" style="left:1021px;top:621px;font-size:7px">2.8%</div>
<div class="L" style="left:950px;top:705px;font-size:7px">خمهر</div>

<!-- energy -->
<div class="h" style="left:912px;top:830px;width:166px;height:16px">فرآورده های نفتی</div>
<div class="c g" style="left:912px;top:846px;width:91px;height:82px"></div>
<div class="c g" style="left:1003px;top:846px;width:75px;height:74px"></div>
<div class="c g" style="left:912px;top:928px;width:91px;height:79px"></div>
<div class="c g" style="left:1003px;top:920px;width:41px;height:48px"></div>
<div class="c g" style="left:1044px;top:920px;width:34px;height:48px"></div>
<div class="c g" style="left:1003px;top:968px;width:22px;height:39px"></div>
<div class="c g" style="left:1025px;top:968px;width:21px;height:39px"></div>
<div class="c k" style="left:1046px;top:968px;width:19px;height:39px"></div>
<div class="c g" style="left:1065px;top:968px;width:13px;height:22px"></div>
<div class="c g" style="left:1065px;top:990px;width:13px;height:17px"></div>
<div style="position:absolute;left:912px;top:1010px;width:166px;height:5px;background:#4b535c"></div>

<div class="L" style="left:807px;top:858px;font-size:26px">شپنا</div>
<div class="L n" style="left:807px;top:886px;font-size:17px">2.8%</div>
<div class="L n" style="left:807px;top:906px;font-size:11px">5,790</div>
<div class="L" style="left:890px;top:856px;font-size:22px">شبندر</div>
<div class="L n" style="left:890px;top:883px;font-size:15px">2.8%</div>
<div class="L n" style="left:890px;top:899px;font-size:10px">5,800</div>
<div class="L" style="left:805px;top:938px;font-size:26px">شتران</div>
<div class="L n" style="left:805px;top:967px;font-size:16px">3.0%</div>
<div class="L n" style="left:805px;top:985px;font-size:10px">3,463</div>
<div class="L" style="left:873px;top:932px;font-size:12px">شبریز</div>
<div class="L" style="left:873px;top:946px;font-size:7px">3.0%</div>
<div class="L" style="left:911px;top:932px;font-size:11px">شسپا</div>
<div class="L" style="left:911px;top:946px;font-size:7px">3.0%</div>
<div class="L" style="left:864px;top:984px;font-size:7px">شراز</div>

<!-- health -->
<div class="h" style="left:1090px;top:830px;width:108px;height:16px">داروئی</div>
<div class="c g" style="left:1090px;top:846px;width:46px;height:78px"></div>
<div class="c g" style="left:1136px;top:846px;width:62px;height:55px"></div>
<div class="c g" style="left:1136px;top:901px;width:62px;height:23px"></div>
<div class="c g" style="left:1090px;top:924px;width:32px;height:46px"></div>
<div class="c k" style="left:1122px;top:924px;width:18px;height:24px"></div>
<div class="c g" style="left:1122px;top:948px;width:18px;height:22px"></div>
<div class="c p" style="left:1090px;top:970px;width:32px;height:20px"></div>
<div class="c d" style="left:1122px;top:970px;width:18px;height:20px"></div>
<div class="c g" style="left:1090px;top:990px;width:50px;height:20px"></div>
<div class="c g" style="left:1140px;top:924px;width:20px;height:24px"></div>
<div class="c g" style="left:1160px;top:924px;width:20px;height:24px"></div>
<div class="c p" style="left:1180px;top:924px;width:18px;height:24px"></div>
<div class="c r" style="left:1140px;top:948px;width:15px;height:18px"></div>
<div class="c k" style="left:1155px;top:948px;width:15px;height:18px"></div>
<div class="c g" style="left:1170px;top:948px;width:15px;height:18px"></div>
<div class="c g" style="left:1185px;top:948px;width:13px;height:18px"></div>
<div class="c d" style="left:1140px;top:966px;width:18px;height:19px"></div>
<div class="c g" style="left:1158px;top:966px;width:17px;height:19px"></div>
<div class="c d" style="left:1175px;top:966px;width:23px;height:19px"></div>
<div class="c g" style="left:1140px;top:985px;width:20px;height:25px"></div>
<div class="c g" style="left:1160px;top:985px;width:20px;height:15px"></div>
<div class="c g" style="left:1180px;top:985px;width:18px;height:15px"></div>
<div class="c d" style="left:1160px;top:1000px;width:38px;height:10px"></div>

<div class="L" style="left:963px;top:865px;font-size:15px">دعبید</div>
<div class="L" style="left:963px;top:883px;font-size:9px">3.0%</div>
<div class="L" style="left:963px;top:893px;font-size:7px">9,380</div>
<div class="L" style="left:1017px;top:854px;font-size:17px">داترا</div>
<div class="L" style="left:1017px;top:874px;font-size:10px">3.0%</div>
<div class="L" style="left:1017px;top:886px;font-size:8px">6,820</div>
<div class="L" style="left:1017px;top:909px;font-size:7px">دامین</div>
<div class="L" style="left:956px;top:943px;font-size:7px">فارکوین</div>
<div class="L" style="left:956px;top:977px;font-size:7px">سفارا</div>

<!-- non-cyclic consumer -->
<div class="h" style="left:912px;top:1034px;width:62px;height:14px;line-height:12px;font-size:8px">... زی و دامپروری</div>
<div class="c g" style="left:912px;top:1048px;width:40px;height:20px"></div>
<div class="c g" style="left:952px;top:1048px;width:22px;height:20px"></div>
<div class="c d" style="left:912px;top:1068px;width:28px;height:17px"></div>
<div class="c k" style="left:940px;top:1068px;width:15px;height:17px"></div>
<div class="c d" style="left:955px;top:1068px;width:19px;height:32px"></div>
<div class="c k" style="left:912px;top:1085px;width:28px;height:15px"></div>
<div class="c g" style="left:940px;top:1085px;width:15px;height:15px"></div>
<div class="h" style="left:978px;top:1034px;width:53px;height:14px;line-height:12px;font-size:8px">... ولات غذایی</div>
<div class="c k" style="left:978px;top:1048px;width:22px;height:27px"></div>
<div class="c g" style="left:1000px;top:1048px;width:31px;height:27px"></div>
<div class="c g" style="left:978px;top:1075px;width:27px;height:25px"></div>
<div class="c d" style="left:1005px;top:1075px;width:26px;height:15px"></div>
<div class="c g" style="left:1005px;top:1090px;width:26px;height:10px"></div>

<!-- technology -->
<div class="h" style="left:1041px;top:1034px;width:81px;height:14px;line-height:12px;font-size:8px">نرم افزار و خدمات</div>
<div class="c g" style="left:1041px;top:1048px;width:19px;height:22px"></div>
<div class="c g" style="left:1060px;top:1048px;width:30px;height:14px"></div>
<div class="c d" style="left:1090px;top:1048px;width:15px;height:14px"></div>
<div class="c g" style="left:1105px;top:1048px;width:17px;height:22px"></div>
<div class="c d" style="left:1060px;top:1062px;width:30px;height:13px"></div>
<div class="c k" style="left:1090px;top:1062px;width:15px;height:13px"></div>
<div class="c r" style="left:1041px;top:1070px;width:19px;height:15px"></div>
<div class="c g" style="left:1060px;top:1075px;width:30px;height:10px"></div>
<div class="c d" style="left:1090px;top:1075px;width:32px;height:10px"></div>
<div class="h" style="left:1041px;top:1087px;width:81px;height:13px;line-height:12px;font-size:8px">... افزار و تجهیزات</div>

<!-- real estate -->
<div class="h" style="left:1133px;top:1034px;width:65px;height:14px;line-height:12px;font-size:8px">... لاک و مستغلات</div>
<div class="c r" style="left:1133px;top:1048px;width:48px;height:36px"></div>
<div class="c g" style="left:1181px;top:1048px;width:17px;height:18px"></div>
<div class="c d" style="left:1181px;top:1066px;width:17px;height:18px"></div>
<div class="c g" style="left:1133px;top:1084px;width:27px;height:16px"></div>
<div class="c k" style="left:1160px;top:1084px;width:38px;height:16px"></div>
<div class="L" style="left:1008px;top:1055px;font-size:12px">تشرق</div>
<div class="L" style="left:1008px;top:1070px;font-size:8px">-2.9%</div>

<!-- basic materials -->
<div class="h" style="left:460px;top:957px;width:216px;height:15px">مواد شیمیایی متنوع</div>
<div class="c g" style="left:460px;top:972px;width:101px;height:62px"></div>
<div class="c d" style="left:561px;top:972px;width:54px;height:23px"></div>
<div class="c d" style="left:615px;top:972px;width:34px;height:18px"></div>
<div class="c d" style="left:649px;top:972px;width:27px;height:16px"></div>
<div class="c d" style="left:561px;top:995px;width:29px;height:39px"></div>
<div class="c g" style="left:590px;top:995px;width:25px;height:39px"></div>
<div class="c g" style="left:615px;top:990px;width:34px;height:20px"></div>
<div class="c g" style="left:615px;top:1010px;width:17px;height:24px"></div>
<div class="c g" style="left:632px;top:1010px;width:17px;height:24px"></div>
<div class="c g" style="left:649px;top:988px;width:27px;height:22px"></div>
<div class="c g" style="left:649px;top:1010px;width:13px;height:24px"></div>
<div class="c d" style="left:662px;top:1010px;width:14px;height:24px"></div>
<div class="c g" style="left:460px;top:1034px;width:45px;height:49px"></div>
<div class="c r" style="left:505px;top:1034px;width:29px;height:49px"></div>
<div class="c d" style="left:534px;top:1034px;width:27px;height:49px"></div>
<div class="c g" style="left:561px;top:1034px;width:29px;height:24px"></div>
<div class="c g" style="left:561px;top:1058px;width:29px;height:25px"></div>
<div class="c g" style="left:590px;top:1034px;width:27px;height:49px"></div>
<div class="c g" style="left:617px;top:1034px;width:18px;height:24px"></div>
<div class="c d" style="left:635px;top:1034px;width:13px;height:24px"></div>
<div class="c g" style="left:648px;top:1034px;width:14px;height:24px"></div>
<div class="c d" style="left:662px;top:1034px;width:14px;height:24px"></div>
<div class="c g" style="left:617px;top:1058px;width:15px;height:25px"></div>
<div class="c d" style="left:632px;top:1058px;width:13px;height:25px"></div>
<div class="c g" style="left:645px;top:1058px;width:15px;height:25px"></div>
<div class="c g" style="left:660px;top:1058px;width:16px;height:25px"></div>
<div class="h" style="left:460px;top:1087px;width:216px;height:13px;line-height:12px">آهن و فولاد</div>
<div class="h" style="left:680px;top:957px;width:220px;height:15px">کانی های فلزی</div>
<div class="c g" style="left:680px;top:972px;width:156px;height:82px"></div>
<div class="c g" style="left:836px;top:972px;width:34px;height:48px"></div>
<div class="c g" style="left:870px;top:972px;width:30px;height:48px"></div>
<div class="c g" style="left:836px;top:1020px;width:22px;height:34px"></div>
<div class="c g" style="left:858px;top:1020px;width:22px;height:34px"></div>
<div class="c g" style="left:880px;top:1020px;width:20px;height:17px"></div>
<div class="c d" style="left:880px;top:1037px;width:20px;height:17px"></div>
<div class="h" style="left:680px;top:1057px;width:146px;height:14px;line-height:12px">تولید فلزات گرانبهای غیرآهن</div>
<div class="c g" style="left:680px;top:1071px;width:85px;height:29px"></div>
<div class="c g" style="left:765px;top:1071px;width:61px;height:29px"></div>
<div class="h" style="left:831px;top:1057px;width:69px;height:14px;line-height:12px;font-size:8px">... ترکیبات نیتروژن</div>
<div class="c g" style="left:831px;top:1071px;width:37px;height:29px"></div>
<div class="c d" style="left:868px;top:1071px;width:32px;height:29px"></div>

<div class="L" style="left:355px;top:978px;font-size:22px">نوری</div>
<div class="L n" style="left:355px;top:1001px;font-size:13px">3.0%</div>
<div class="L n" style="left:355px;top:1015px;font-size:9px">47,510</div>
<div class="L" style="left:438px;top:978px;font-size:8px">شکربن</div>
<div class="L" style="left:425px;top:1008px;font-size:8px">زاگرس</div>
<div class="L" style="left:453px;top:1008px;font-size:8px">شیراز</div>
<div class="L" style="left:333px;top:1040px;font-size:15px">مارون</div>
<div class="L" style="left:333px;top:1057px;font-size:9px">3.0%</div>
<div class="L" style="left:333px;top:1068px;font-size:7px">42,260</div>
<div class="L" style="left:369px;top:1044px;font-size:9px">شکام</div>
<div class="L" style="left:369px;top:1056px;font-size:6px">-1.9%</div>
<div class="L" style="left:397px;top:1052px;font-size:8px">پارس</div>
<div class="L" style="left:608px;top:984px;font-size:28px">فزر</div>
<div class="L n" style="left:608px;top:1013px;font-size:16px">3.0%</div>
<div class="L n" style="left:608px;top:1031px;font-size:11px">106,350</div>
<div class="L" style="left:703px;top:985px;font-size:9px">کچاد</div>
<div class="L" style="left:703px;top:997px;font-size:6px">3.0%</div>
<div class="L" style="left:735px;top:985px;font-size:9px">کگل</div>
<div class="L" style="left:735px;top:997px;font-size:6px">3.0%</div>
<div class="L" style="left:645px;top:1078px;font-size:14px">فایرا</div>
<div class="L" style="left:700px;top:1080px;font-size:10px">شیدیس</div>
<div class="L" style="left:734px;top:1078px;font-size:9px">شیراز</div>

<!-- cursor line -->
<div style="position:absolute;left:1147px;top:820px;width:2px;height:280px;background:rgba(255,255,255,.85)"></div>

</div></body></html>
